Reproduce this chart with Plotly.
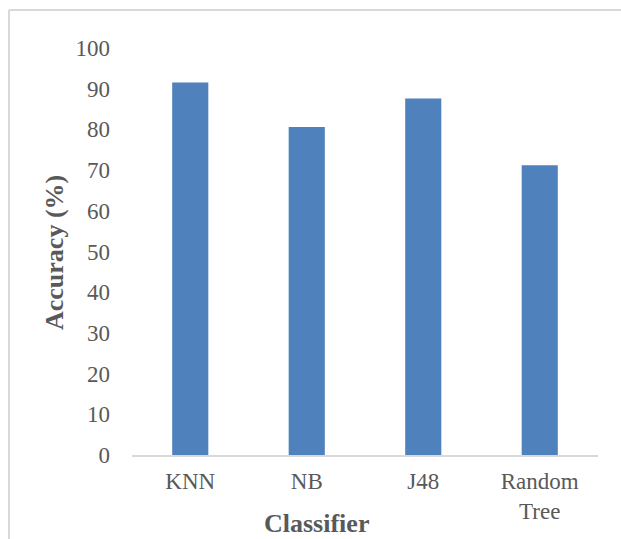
import plotly.graph_objects as go

# Classification accuracy per classifier
classifiers = ["KNN", "NB", "J48", "Random<br>Tree"]
accuracy = [91.5, 80.6, 87.6, 71.2]
y_ticks = [0, 10, 20, 30, 40, 50, 60, 70, 80, 90, 100]

W, H = 621, 539
L, R, T, B = 132, 23, 48, 84
pw, ph = W - L - R, H - T - B

def px(x):
    return (x - L) / pw

def py(y):
    return (H - B - y) / ph

font = "Liberation Serif, Times New Roman, serif"
grey = "#595959"

fig = go.Figure(
    go.Bar(
        x=classifiers,
        y=accuracy,
        marker=dict(color="#4F81BD", line=dict(width=0)),
        width=0.31,
    )
)

fig.update_layout(
    width=W,
    height=H,
    margin=dict(l=L, r=R, t=T, b=B),
    paper_bgcolor="white",
    plot_bgcolor="white",
    showlegend=False,
    font=dict(family=font, size=23, color=grey),
    xaxis=dict(
        automargin=False,
        showgrid=False,
        showline=True,
        linecolor="#D9D9D9",
        linewidth=1.5,
        ticks="",
        ticklabelstandoff=5,
        tickfont=dict(size=23, color=grey),
    ),
    yaxis=dict(
        automargin=False,
        range=[0, 100],
        tickvals=y_ticks,
        showgrid=False,
        zeroline=False,
        showline=False,
        ticks="",
        ticklabelstandoff=21,
        tickfont=dict(size=23, color=grey),
    ),
    annotations=[
        dict(text="<b>Classifier</b>", xref="paper", yref="paper",
             x=px(316), y=py(523), xanchor="center", yanchor="middle",
             showarrow=False,
             font=dict(size=26, color=grey, family=font)),
        dict(text="<b>Accuracy (%)</b>", xref="paper", yref="paper",
             x=px(54), y=py(253), xanchor="center", yanchor="middle",
             showarrow=False, textangle=-90,
             font=dict(size=26, color=grey, family=font)),
    ],
    shapes=[
        dict(type="line", xref="paper", yref="paper",
             x0=px(9), y0=py(10), x1=px(640), y1=py(10),
             line=dict(color="#D9D9D9", width=2)),
        dict(type="line", xref="paper", yref="paper",
             x0=px(9), y0=py(10), x1=px(9), y1=py(560),
             line=dict(color="#D9D9D9", width=2)),
    ],
)

fig.write_html("out.html")
